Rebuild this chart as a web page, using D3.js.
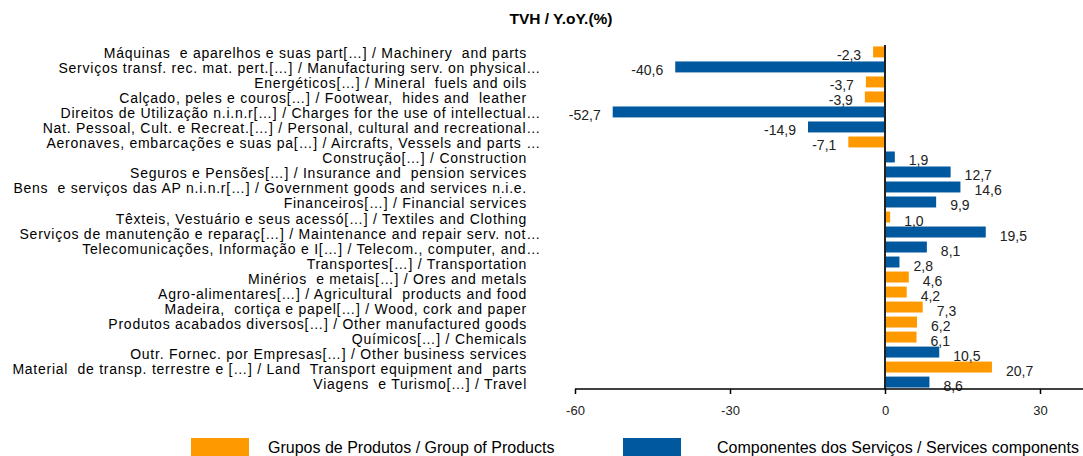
<!DOCTYPE html>
<html>
<head>
<meta charset="utf-8">
<script src="https://cdn.jsdelivr.net/npm/d3@7"></script>
<style>
  body { margin: 0; background: #fff; }
  svg { font-family: "Liberation Sans", Arial, sans-serif; }
  .cat { font-size: 14px; fill: #000; white-space: pre; letter-spacing: 0.75px; }
  .val { font-size: 14px; fill: #222; }
  .tick text { font-size: 13px; fill: #222; }
</style>
</head>
<body>
<svg id="chart" width="1083" height="456"></svg>
<script>
const categories = [
  "Máquinas  e aparelhos e suas part[…] / Machinery  and parts",
  "Serviços transf. rec. mat. pert.[…] / Manufacturing serv. on physical…",
  "Energéticos[…] / Mineral  fuels and oils",
  "Calçado, peles e couros[…] / Footwear,  hides and  leather",
  "Direitos de Utilização n.i.n.r[…] / Charges for the use of intellectual…",
  "Nat. Pessoal, Cult. e Recreat.[…] / Personal, cultural and recreational…",
  "Aeronaves, embarcações e suas pa[…] / Aircrafts, Vessels and parts …",
  "Construção[…] / Construction",
  "Seguros e Pensões[…] / Insurance and  pension services",
  "Bens  e serviços das AP n.i.n.r[…] / Government goods and services n.i.e.",
  "Financeiros[…] / Financial services",
  "Têxteis, Vestuário e seus acessó[…] / Textiles and Clothing",
  "Serviços de manutenção e reparaç[…] / Maintenance and repair serv. not…",
  "Telecomunicações, Informação e I[…] / Telecom., computer, and…",
  "Transportes[…] / Transportation",
  "Minérios  e metais[…] / Ores and metals",
  "Agro-alimentares[…] / Agricultural  products and food",
  "Madeira,  cortiça e papel[…] / Wood, cork and paper",
  "Produtos acabados diversos[…] / Other manufactured goods",
  "Químicos[…] / Chemicals",
  "Outr. Fornec. por Empresas[…] / Other business services",
  "Material  de transp. terrestre e […] / Land  Transport equipment and  parts",
  "Viagens  e Turismo[…] / Travel"
];
const values = [-2.3, -40.6, -3.7, -3.9, -52.7, -14.9, -7.1, 1.9, 12.7, 14.6, 9.9, 1.0,
  19.5, 8.1, 2.8, 4.6, 4.2, 7.3, 6.2, 6.1, 10.5, 20.7, 8.6];
// P = grupos de produtos, S = componentes dos serviços
const groups = ["P", "S", "P", "P", "S", "S", "P", "S", "S", "S", "S", "P",
  "S", "S", "S", "P", "P", "P", "P", "P", "S", "P", "S"];
const xTicks = [-60, -30, 0, 30];
const legendLabels = ["Grupos de Produtos / Group of Products", "Componentes dos Serviços / Services components"];

const colors = { P: "#FF9900", S: "#00589E" };
const data = categories.map((c, i) => ({ cat: c, value: values[i], group: groups[i] }));

const svg = d3.select("#chart");

const x = d3.scaleLinear().domain([-60, 30]).range([575, 1040]);
const y = d3.scaleBand().domain(categories).range([44.5, 389.5]).paddingInner(0.27).paddingOuter(0.13);

// title
svg.append("text")
  .attr("x", 561).attr("y", 24)
  .attr("text-anchor", "middle")
  .style("font-size", "15.5px").style("font-weight", "bold")
  .text("TVH / Y.oY.(%)");

// bars
svg.selectAll("rect.bar")
  .data(data)
  .enter().append("rect")
  .attr("class", "bar")
  .attr("x", d => x(Math.min(0, d.value)))
  .attr("y", d => y(d.cat))
  .attr("width", d => Math.abs(x(d.value) - x(0)))
  .attr("height", y.bandwidth())
  .attr("fill", d => colors[d.group]);

// value labels
const fmt = v => v.toFixed(1).replace(".", ",");
svg.selectAll("text.val")
  .data(data)
  .enter().append("text")
  .attr("class", "val")
  .attr("x", d => d.value < 0 ? x(d.value) - 12 : x(d.value) + 14)
  .attr("y", d => y(d.cat) + y.bandwidth() / 2 + 8.5)
  .attr("text-anchor", d => d.value < 0 ? "end" : "start")
  .text(d => fmt(d.value));

// category labels
svg.selectAll("text.cat")
  .data(data)
  .enter().append("text")
  .attr("class", "cat")
  .attr("x", d => d.cat.endsWith("…") ? 541 : 527)
  .attr("y", d => y(d.cat) + y.bandwidth() / 2 + 6.5)
  .attr("text-anchor", "end")
  .text(d => d.cat);

// zero line
svg.append("line")
  .attr("x1", x(0)).attr("x2", x(0))
  .attr("y1", 45).attr("y2", 389)
  .attr("stroke", "#222").attr("stroke-width", 2);

// x axis
const xAxis = d3.axisBottom(x).tickValues(xTicks).tickSize(5).tickPadding(12)
  .tickFormat(d => String(d));
const gx = svg.append("g")
  .attr("transform", "translate(0,389)")
  .call(xAxis);
gx.select(".domain").remove();
gx.selectAll(".tick line").attr("stroke", "#000").attr("stroke-width", 1.5);
svg.append("line")
  .attr("x1", 575).attr("x2", 1083)
  .attr("y1", 389).attr("y2", 389)
  .attr("stroke", "#000").attr("stroke-width", 1.5);

// legend
const legend = svg.append("g").selectAll("g")
  .data(legendLabels)
  .enter().append("g")
  .attr("transform", (d, i) => "translate(" + [191, 623][i] + ",438)");
legend.append("rect")
  .attr("width", 58).attr("height", 18)
  .attr("fill", (d, i) => i === 0 ? colors.P : colors.S);
legend.append("text")
  .attr("x", (d, i) => [77, 94][i])
  .attr("y", 15)
  .style("font-size", "16px")
  .text(d => d);
</script>
</body>
</html>
